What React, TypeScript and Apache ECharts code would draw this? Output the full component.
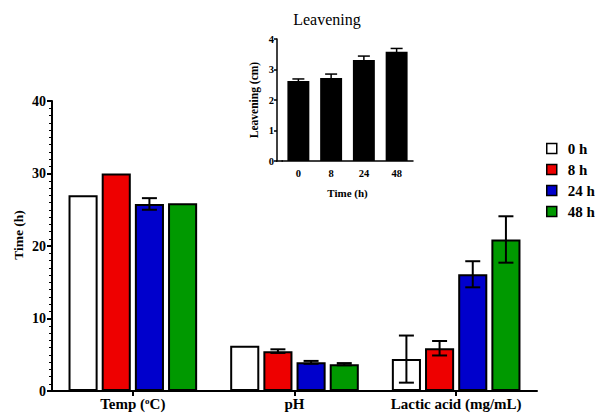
import React, { useEffect, useRef } from "react";
import * as echarts from "echarts";

const categories = ["Temp (°C)", "pH", "Lactic acid (mg/mL)"];
const seriesNames = ["0 h", "8 h", "24 h", "48 h"];
const seriesColors = ["#ffffff", "#ee0000", "#0000cc", "#009900"];
const means = [
  [27, 6.25, 4.4],
  [30, 5.5, 5.9],
  [25.8, 3.95, 16.1],
  [25.9, 3.7, 20.9],
];
const errors = [
  [0, 0, 3.25],
  [0, 0.25, 1.0],
  [0.8, 0.2, 1.8],
  [0, 0.15, 3.2],
];
const yTicks = [0, 10, 20, 30, 40];
const yName = "Time (h)";

const insetCategories = ["0", "8", "24", "48"];
const insetMeans = [2.62, 2.72, 3.31, 3.58];
const insetErrors = [0.07, 0.13, 0.13, 0.11];

const FONT = "'Liberation Serif', 'Times New Roman', serif";
const BAR_W = 0.18;
const GAP = 0.14;

export default function App() {
  const ref = useRef<HTMLDivElement>(null);
  useEffect(() => {
    if (!ref.current) return;
    const chart = echarts.init(ref.current, undefined, { renderer: "svg" });

    const barSeries: any[] = seriesNames.map((name, i) => ({
      type: "bar",
      name,
      xAxisIndex: 0,
      yAxisIndex: 0,
      data: means[i],
      barWidth: BAR_W * 100 + "%",
      barGap: GAP * 100 + "%",
      itemStyle: { color: seriesColors[i], borderColor: "#000", borderWidth: 2 },
      z: 2,
    }));

    const errSeries: any[] = seriesNames.map((name, si) => ({
      type: "custom",
      name: "err" + si,
      xAxisIndex: 0,
      yAxisIndex: 0,
      z: 5,
      data: means[si].map((v, ci) => [ci, v, errors[si][ci]]),
      renderItem: (params: any, api: any) => {
        const ci = api.value(0);
        const v = api.value(1);
        const e = api.value(2);
        if (!e) return null;
        const band = api.size([1, 0])[0];
        const bw = band * BAR_W;
        const step = bw * (1 + GAP);
        const c = api.coord([ci, v]);
        const x = c[0] + (si - 1.5) * step;
        const top = api.coord([ci, v + e])[1];
        const bot = api.coord([ci, v - e])[1];
        const hw = 7.5;
        const st = { stroke: "#000", lineWidth: 2 };
        return {
          type: "group",
          children: [
            { type: "line", shape: { x1: x, y1: top, x2: x, y2: bot }, style: st },
            { type: "line", shape: { x1: x - hw, y1: top, x2: x + hw, y2: top }, style: st },
            { type: "line", shape: { x1: x - hw, y1: bot, x2: x + hw, y2: bot }, style: st },
          ],
        };
      },
    }));

    const insetBar = {
      type: "bar",
      name: "Leavening",
      xAxisIndex: 1,
      yAxisIndex: 1,
      data: insetMeans,
      barWidth: "67%",
      itemStyle: { color: "#000" },
      z: 2,
    };
    const insetErr = {
      type: "custom",
      name: "insetErr",
      xAxisIndex: 1,
      yAxisIndex: 1,
      z: 5,
      data: insetMeans.map((v, i) => [i, v, insetErrors[i]]),
      renderItem: (params: any, api: any) => {
        const v = api.value(1);
        const e = api.value(2);
        const c = api.coord([api.value(0), v]);
        const top = api.coord([api.value(0), v + e])[1];
        const bot = api.coord([api.value(0), v - e])[1];
        const x = c[0];
        const hw = 6;
        const st = { stroke: "#000", lineWidth: 1.5 };
        return {
          type: "group",
          children: [
            { type: "line", shape: { x1: x, y1: top, x2: x, y2: bot }, style: st },
            { type: "line", shape: { x1: x - hw, y1: top, x2: x + hw, y2: top }, style: st },
          ],
        };
      },
    };

    const axisLine = { show: true, lineStyle: { color: "#000", width: 2 } };

    chart.setOption({
      animation: false,
      backgroundColor: "#fff",
      textStyle: { fontFamily: FONT },
      legend: {
        data: seriesNames,
        orient: "vertical",
        left: 541,
        top: 136,
        itemWidth: 10,
        itemHeight: 10,
        itemGap: 6,
        icon: "rect",
        itemStyle: { borderColor: "#000", borderWidth: 1.5 },
        textStyle: { fontFamily: FONT, fontWeight: "bold", fontSize: 15, color: "#000", padding: [0, 0, 0, 6] },
      },
      graphic: [
        {
          type: "text",
          x: 327,
          y: 11,
          style: {
            text: "Leavening",
            fontFamily: FONT,
            fontSize: 16,
            fill: "#000",
            textAlign: "center",
          },
        },
        {
          type: "text",
          x: 18,
          y: 235,
          rotation: Math.PI / 2,
          style: {
            text: yName,
            fontFamily: FONT,
            fontWeight: "bold",
            fontSize: 13.5,
            fill: "#000",
            textAlign: "center",
            textVerticalAlign: "middle",
          },
        },
        {
          type: "line",
          shape: { x1: 276, y1: 161, x2: 283, y2: 161 },
          style: { stroke: "#000", lineWidth: 1.5 },
        },
      ],
      grid: [
        { left: 52, right: 58, top: 101, bottom: 22, outerBoundsMode: "none", containLabel: false },
        { left: 282, width: 131, top: 39, height: 122, outerBoundsMode: "none", containLabel: false },
      ],
      xAxis: [
        {
          type: "category",
          gridIndex: 0,
          data: categories,
          axisLine,
          axisTick: { show: true, alignWithLabel: true, length: 5, lineStyle: { color: "#000", width: 2 } },
          axisLabel: {
            margin: 5,
            interval: 0,
            color: "#000",
            fontFamily: FONT,
            fontWeight: "bold",
            fontSize: 15,
            formatter: (val: string) => {
              if (val.indexOf("°") >= 0) {
                const parts = val.split("°");
                return "{a|" + parts[0] + "}{s|o}{a|" + parts[1] + "}";
              }
              return "{a|" + val + "}";
            },
            rich: {
              a: { fontFamily: FONT, fontWeight: "bold", fontSize: 15, color: "#000" },
              s: { fontFamily: FONT, fontWeight: "bold", fontSize: 9, color: "#000", verticalAlign: "top", lineHeight: 9 },
            },
          },
        },
        {
          type: "category",
          gridIndex: 1,
          data: insetCategories,
          axisLine: { show: true, lineStyle: { color: "#000", width: 1.5 } },
          axisTick: { show: false },
          axisLabel: { margin: 7, color: "#000", fontFamily: FONT, fontWeight: "bold", fontSize: 10.5 },
          name: "Time (h)",
          nameLocation: "middle",
          nameGap: 26,
          nameTextStyle: { color: "#000", fontFamily: FONT, fontWeight: "bold", fontSize: 11 },
        },
      ],
      yAxis: [
        {
          type: "value",
          gridIndex: 0,
          min: yTicks[0],
          max: yTicks[yTicks.length - 1],
          interval: 10,
          axisLine,
          axisTick: { show: true, length: 5, lineStyle: { color: "#000", width: 2 } },
          minorTick: { show: true, splitNumber: 10, length: 3, lineStyle: { color: "#000", width: 1 } },
          splitLine: { show: false },
          axisLabel: { margin: 6, color: "#000", fontFamily: FONT, fontWeight: "bold", fontSize: 14 },
        },
        {
          type: "value",
          gridIndex: 1,
          min: 0,
          max: 4,
          interval: 1,
          offset: 5,
          axisLine: { show: true, lineStyle: { color: "#000", width: 1.5 } },
          axisTick: { show: true, length: 3, lineStyle: { color: "#000", width: 1.5 } },
          splitLine: { show: false },
          axisLabel: { margin: 3, color: "#000", fontFamily: FONT, fontWeight: "bold", fontSize: 10.5 },
          name: "Leavening (cm)",
          nameLocation: "middle",
          nameGap: 17,
          nameTextStyle: { color: "#000", fontFamily: FONT, fontWeight: "bold", fontSize: 11.5 },
        },
      ],
      series: [...barSeries, ...errSeries, insetBar, insetErr],
    });
    return () => chart.dispose();
  }, []);
  return <div ref={ref} style={{ width: 595, height: 413, position: "absolute", left: 0, top: 0 }} />;
}
